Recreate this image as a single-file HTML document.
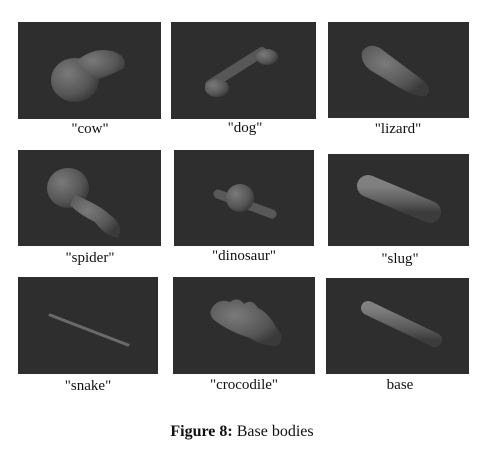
<!DOCTYPE html>
<html><head><meta charset="utf-8"><style>
body{margin:0;width:484px;height:452px;background:#fff;position:relative;overflow:hidden;font-family:"Liberation Serif",serif;}
.p{position:absolute;background:#2e2e2e;}
.l{position:absolute;font-size:15px;color:#111;text-align:center;width:160px;line-height:16px;}
svg{position:absolute;left:0;top:0;}
</style></head><body>
<svg width="484" height="452">
<defs>
<radialGradient id="g" cx="35%" cy="35%" r="70%"><stop offset="0" stop-color="#7a7a7a"/><stop offset="0.7" stop-color="#555"/><stop offset="1" stop-color="#3a3a3a"/></radialGradient>
<linearGradient id="h" x1="0" y1="0" x2="0" y2="1"><stop offset="0" stop-color="#808080"/><stop offset="0.6" stop-color="#5c5c5c"/><stop offset="1" stop-color="#3c3c3c"/></linearGradient>
</defs>
<g>
<rect x="18" y="22" width="143" height="97" fill="#2e2e2e"/>
<ellipse cx="75" cy="80" rx="24" ry="22" fill="url(#g)"/>
<path d="M75 62 Q95 45 115 52 Q128 58 124 68 Q110 76 95 80 Z" fill="url(#g)"/>
</g>
<g>
<rect x="171" y="22" width="145" height="97" fill="#2e2e2e"/>
<path d="M210 85 L262 52" stroke="#575757" stroke-width="10" stroke-linecap="round"/>
<ellipse cx="217" cy="88" rx="12" ry="9" fill="url(#g)"/>
<ellipse cx="267" cy="57" rx="11" ry="8" fill="url(#g)"/>
</g>
<g>
<rect x="328" y="22" width="141" height="96" fill="#2e2e2e"/>
<path d="M362 52 Q368 42 380 48 L420 78 Q434 88 426 96 Q418 98 400 88 L370 70 Q360 62 362 52Z" fill="url(#g)"/>
</g>
<g>
<rect x="18" y="150" width="143" height="96" fill="#2e2e2e"/>
<ellipse cx="68" cy="188" rx="21" ry="20" fill="url(#g)"/>
<path d="M75 195 Q100 205 110 215 Q125 225 118 238 Q105 236 95 222 Q80 215 70 205Z" fill="url(#g)"/>
</g>
<g>
<rect x="174" y="150" width="140" height="96" fill="#2e2e2e"/>
<path d="M218 194 L272 214" stroke="#585858" stroke-width="9" stroke-linecap="round"/>
<circle cx="240" cy="198" r="14" fill="url(#g)"/>
</g>
<g>
<rect x="328" y="154" width="141" height="92" fill="#2e2e2e"/>
<path d="M368 186 L430 212" stroke="url(#h)" stroke-width="22" stroke-linecap="round"/>
</g>
<g>
<rect x="18" y="277" width="140" height="97" fill="#2e2e2e"/>
<path d="M50 315 L128 345" stroke="#6a6a6a" stroke-width="3" stroke-linecap="round"/>
</g>
<g>
<rect x="173" y="277" width="142" height="97" fill="#2e2e2e"/>
<path d="M212 308 Q218 298 230 302 Q238 296 244 304 Q252 298 258 308 Q268 312 278 330 Q286 340 276 346 Q262 346 250 338 Q230 332 214 320 Q208 314 212 308Z" fill="url(#g)"/>
</g>
<g>
<rect x="326" y="278" width="143" height="96" fill="#2e2e2e"/>
<path d="M368 308 L435 340" stroke="url(#h)" stroke-width="14" stroke-linecap="round"/>
</g>
</svg>
<div class="l" style="left:10px;top:121px">"cow"</div>
<div class="l" style="left:165px;top:120px">"dog"</div>
<div class="l" style="left:318px;top:121px">"lizard"</div>
<div class="l" style="left:10px;top:250px">"spider"</div>
<div class="l" style="left:164px;top:248px">"dinosaur"</div>
<div class="l" style="left:320px;top:251px">"slug"</div>
<div class="l" style="left:8px;top:378px">"snake"</div>
<div class="l" style="left:164px;top:377px">"crocodile"</div>
<div class="l" style="left:320px;top:377px">base</div>
<div style="position:absolute;left:0;width:484px;text-align:center;top:423px;font-size:16px;line-height:18px;color:#111"><b>Figure 8:</b> Base bodies</div>
</body></html>
